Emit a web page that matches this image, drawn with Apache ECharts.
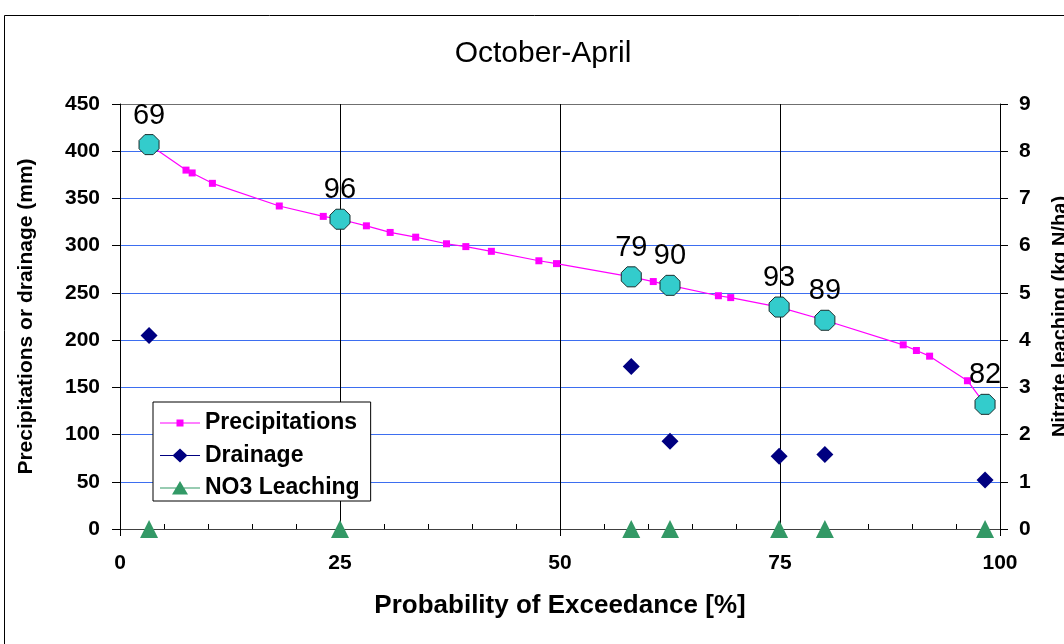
<!DOCTYPE html>
<html>
<head>
<meta charset="utf-8">
<script src="https://cdn.jsdelivr.net/npm/echarts@6/dist/echarts.min.js"></script>
<style>
  html, body { margin: 0; padding: 0; background: #fff; }
  #chart { width: 1064px; height: 644px; }
</style>
</head>
<body>
<div id="chart"></div>
<script>
// ---- Data ----
const titleText = "October-April";
const precipX = [3.3, 7.5, 8.2, 10.5, 18.1, 23.1, 25.0, 28.0, 30.7, 33.6, 37.1, 39.3, 42.2, 47.6, 49.6, 58.1, 60.6, 62.5, 68.0, 69.4, 74.9, 80.1, 89.0, 90.5, 92.0, 96.3, 98.3];
const precipY = [407, 380, 377, 366, 342, 331, 328, 321, 314, 309, 302, 299, 294, 284, 281, 267, 262, 258, 247, 245, 235, 221, 195, 189, 183, 157, 132];

const yearX = [3.3, 25.0, 58.1, 62.5, 74.9, 80.1, 98.3];
const yearPrecip = [407, 328, 267, 258, 235, 221, 132];
const yearLabels = ["69", "96", "79", "90", "93", "89", "82"];

const drainageX = [3.3, 58.1, 62.5, 74.9, 80.1, 98.3];
const drainageY = [205, 172, 93, 77, 79, 52];

const no3X = [3.3, 25.0, 58.1, 62.5, 74.9, 80.1, 98.3];
const no3Y = [0, 0, 0, 0, 0, 0, 0];

const xTicks = { min: 0, max: 100, interval: 25 };
const yLeftTicks = { min: 0, max: 450, interval: 50 };
const yRightTicks = { min: 0, max: 9, interval: 1 };

const seriesNames = ["Precipitations", "Drainage", "NO3 Leaching"];

// ---- Build chart ----
const FONT = "'Liberation Sans', Arial, sans-serif";
const pairs = (xs, ys) => xs.map((x, i) => [x, ys[i]]);

const chart = echarts.init(document.getElementById('chart'), null, { renderer: 'canvas' });

const iconPrecip = 'path://M0,0M40,18M0,8.4H40V9.6H0ZM16.5,5.5H23.5V12.5H16.5Z';
const iconDrain = 'path://M0,0M40,18M0,8.4H40V9.6H0ZM20,2L27.5,9L20,16L12.5,9Z';
const iconNo3 = 'path://M0,0M40,18M0,8.4H40V9.6H0ZM20,2L28,15.5L12,15.5Z';

// grid line colours: blue lines, top border line grey
const nLeftLines = (yLeftTicks.max - yLeftTicks.min) / yLeftTicks.interval + 1;
const leftGridColors = [];
for (let i = 0; i < nLeftLines; i++) leftGridColors.push(i === nLeftLines - 1 ? '#6f6f6f' : '#3d6ef0');

chart.setOption({
  animation: false,
  backgroundColor: '#ffffff',
  title: {
    text: titleText,
    left: 538,
    top: 34,
    textAlign: 'center',
    textStyle: { fontFamily: FONT, fontSize: 30, fontWeight: 'normal', color: '#000' }
  },
  graphic: [{
    type: 'rect',
    shape: { x: 4.5, y: 15.5, width: 1200, height: 800 },
    style: { fill: 'none', stroke: '#000', lineWidth: 1 },
    silent: true,
    z: -10
  }],
  legend: {
    orient: 'vertical',
    left: 153,
    top: 402,
    backgroundColor: '#fff',
    borderColor: '#000',
    borderWidth: 1,
    padding: [9, 11, 1, 7],
    itemWidth: 40,
    itemHeight: 18,
    itemGap: 8.5,
    textStyle: { fontFamily: FONT, fontSize: 23, fontWeight: 'bold', color: '#000', lineHeight: 24 },
    data: [
      { name: seriesNames[0], icon: iconPrecip },
      { name: seriesNames[1], icon: iconDrain },
      { name: seriesNames[2], icon: iconNo3 }
    ]
  },
  grid: {
    left: 120, right: 64, top: 104, bottom: 115,
    containLabel: false,
    outerBoundsMode: 'none',
    show: false
  },
  xAxis: {
    type: 'value',
    min: xTicks.min, max: xTicks.max, interval: xTicks.interval,
    name: 'Probability of Exceedance [%]',
    nameLocation: 'middle',
    nameGap: 64,
    nameTextStyle: { fontFamily: FONT, fontSize: 26, fontWeight: 'bold', color: '#000' },
    axisLine: { show: true, lineStyle: { color: '#404040', width: 1 } },
    axisTick: { show: true, length: 7, lineStyle: { color: '#000' } },
    minorTick: { show: true, splitNumber: 5, length: -5, lineStyle: { color: '#000' } },
    axisLabel: { fontFamily: FONT, fontSize: 21, fontWeight: 'bold', color: '#000', margin: 24 },
    splitLine: { show: true, lineStyle: { color: '#000', width: 1 } }
  },
  yAxis: [{
    type: 'value',
    position: 'left',
    min: yLeftTicks.min, max: yLeftTicks.max, interval: yLeftTicks.interval,
    name: 'Precipitations or drainage (mm)',
    nameLocation: 'middle',
    nameRotate: 90,
    nameGap: 83,
    nameTextStyle: { fontFamily: FONT, fontSize: 21, fontWeight: 'bold', color: '#000' },
    axisLine: { show: true, lineStyle: { color: '#000', width: 1 } },
    axisTick: { show: true, length: 8, lineStyle: { color: '#000' } },
    axisLabel: { fontFamily: FONT, fontSize: 21, fontWeight: 'bold', color: '#000', margin: 20 },
    splitLine: { show: true, lineStyle: { color: leftGridColors, width: 1 } }
  }, {
    type: 'value',
    position: 'right',
    min: yRightTicks.min, max: yRightTicks.max, interval: yRightTicks.interval,
    name: 'Nitrate leaching (kg N/ha)',
    nameLocation: 'middle',
    nameRotate: 90,
    nameGap: 50,
    nameTextStyle: { fontFamily: FONT, fontSize: 20, fontWeight: 'bold', color: '#000' },
    axisLine: { show: true, lineStyle: { color: '#000', width: 1 } },
    axisTick: { show: true, length: 8, lineStyle: { color: '#000' } },
    axisLabel: { fontFamily: FONT, fontSize: 21, fontWeight: 'bold', color: '#000', margin: 19 },
    splitLine: { show: false }
  }],
  series: [{
    name: seriesNames[0],
    type: 'line',
    yAxisIndex: 0,
    data: pairs(precipX, precipY),
    symbol: 'rect',
    symbolSize: 7,
    itemStyle: { color: '#ff00ff' },
    lineStyle: { color: '#ff00ff', width: 1.2 },
    z: 3
  }, {
    name: 'Years',
    type: 'scatter',
    yAxisIndex: 0,
    data: pairs(yearX, yearPrecip),
    symbol: 'path://M29.3,0L70.7,0L100,29.3L100,70.7L70.7,100L29.3,100L0,70.7L0,29.3Z',
    symbolSize: 20,
    itemStyle: { color: '#33cccc', borderColor: '#1a2e2e', borderWidth: 1, opacity: 1 },
    label: {
      show: true,
      position: 'top',
      distance: 4,
      formatter: p => yearLabels[p.dataIndex],
      fontFamily: FONT, fontSize: 29, color: '#000'
    },
    z: 5
  }, {
    name: seriesNames[1],
    type: 'line',
    yAxisIndex: 0,
    data: pairs(drainageX, drainageY),
    symbol: 'diamond',
    symbolSize: 17,
    itemStyle: { color: '#000080' },
    lineStyle: { width: 0, opacity: 0 },
    z: 4
  }, {
    name: seriesNames[2],
    type: 'line',
    yAxisIndex: 1,
    data: pairs(no3X, no3Y),
    symbol: 'triangle',
    symbolSize: 18,
    itemStyle: { color: '#339966' },
    lineStyle: { width: 0, opacity: 0 },
    z: 6
  }]
});
</script>
</body>
</html>
